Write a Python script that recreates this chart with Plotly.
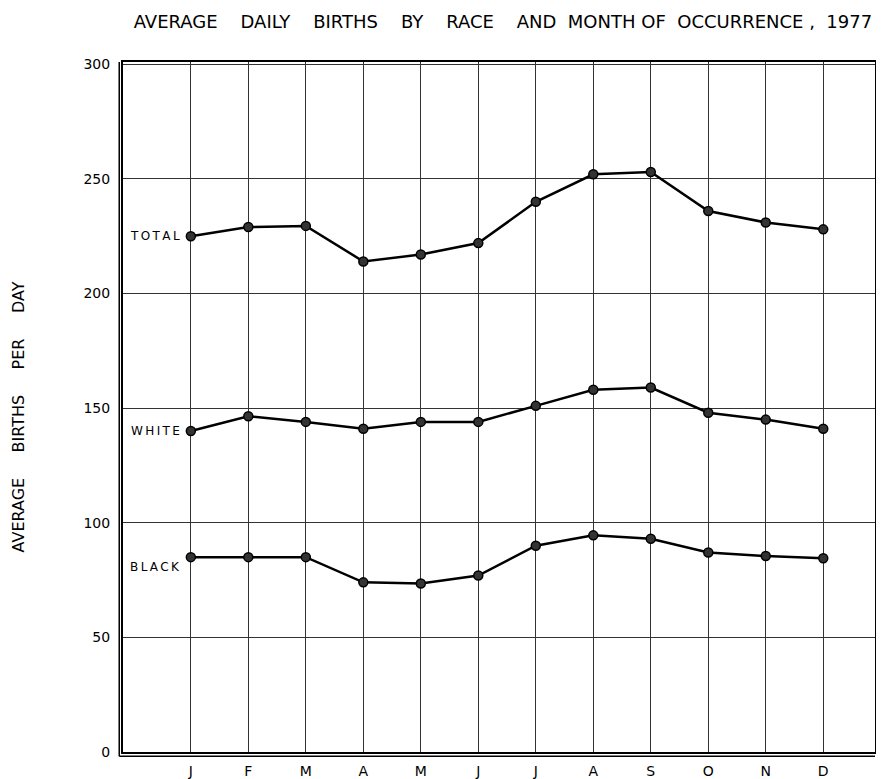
import plotly.graph_objects as go

months = ["J", "F", "M", "A", "M", "J", "J", "A", "S", "O", "N", "D"]
total = [225, 229, 229.5, 214, 217, 222, 240, 252, 253, 236, 231, 228]
white = [140, 146.5, 144, 141, 144, 144, 151, 158, 159, 148, 145, 141]
black = [85, 85, 85, 74, 73.5, 77, 90, 94.5, 93, 87, 85.5, 84.5]
series_names = ["TOTAL", "WHITE", "BLACK"]
y_ticks = [0, 50, 100, 150, 200, 250, 300]

x = list(range(1, 13))
FONT = "DejaVu Sans, Verdana, sans-serif"
TS = "\u2009"  # thin space for letter spacing

fig = go.Figure()
for name, vals in zip(series_names, [total, white, black]):
    fig.add_trace(go.Scatter(
        x=x, y=vals, mode="lines+markers", name=name,
        line=dict(color="black", width=2.5),
        marker=dict(color="#333", size=9, line=dict(color="black", width=1.5)),
        showlegend=False,
    ))

offsets = {"TOTAL": 0, "WHITE": 0, "BLACK": -10}
for name, vals in zip(series_names, [total, white, black]):
    fig.add_annotation(
        x=x[0], y=vals[0], text=TS.join(name), showarrow=False,
        xanchor="right", yanchor="middle", xshift=-9, yshift=offsets[name],
        font=dict(family=FONT, size=12, color="black"),
    )

# y-axis title as rotated annotation
fig.add_annotation(
    xref="paper", yref="paper", x=-0.139, y=0.4855,
    text="AVERAGE     BIRTHS     PER     DAY", textangle=-90, showarrow=False,
    xanchor="center", yanchor="middle",
    font=dict(family=FONT, size=16, color="black"),
)

# double frame line on left and bottom
fig.add_shape(type="line", xref="x domain", yref="y domain",
              x0=-0.005, x1=-0.005, y0=-0.006, y1=1, line=dict(color="black", width=1.5))
fig.add_shape(type="line", xref="x domain", yref="y domain",
              x0=-0.005, x1=1, y0=-0.006, y1=-0.006, line=dict(color="black", width=1.5))

title_text = "AVERAGE    DAILY    BIRTHS    BY    RACE    AND  MONTH OF  OCCURRENCE ,  1977"

fig.update_layout(
    width=876, height=771,
    margin=dict(l=115, r=9, t=54, b=27, autoexpand=False),
    paper_bgcolor="white", plot_bgcolor="white",
    title=dict(
        text=title_text,
        x=0.565, xanchor="center", y=0.99, yanchor="top",
        font=dict(family=FONT, size=18, color="black"),
    ),
    font=dict(family=FONT, color="black"),
)
fig.update_xaxes(
    range=[-0.18, 12.9], tickmode="array", tickvals=x, ticktext=months,
    showgrid=True, gridcolor="#333", gridwidth=1,
    showline=True, linecolor="black", linewidth=2, mirror=True,
    ticks="", ticklabelstandoff=5, tickfont=dict(family=FONT, size=14, color="black"),
    zeroline=False, fixedrange=True,
)
fig.update_yaxes(
    range=[0, 301], tickmode="array", tickvals=y_ticks,
    showgrid=True, gridcolor="#333", gridwidth=1,
    showline=True, linecolor="black", linewidth=2, mirror=True,
    ticks="", ticklabelstandoff=8, tickfont=dict(family=FONT, size=14, color="black"),
    zeroline=False, fixedrange=True,
)

fig.write_html("out.html")
